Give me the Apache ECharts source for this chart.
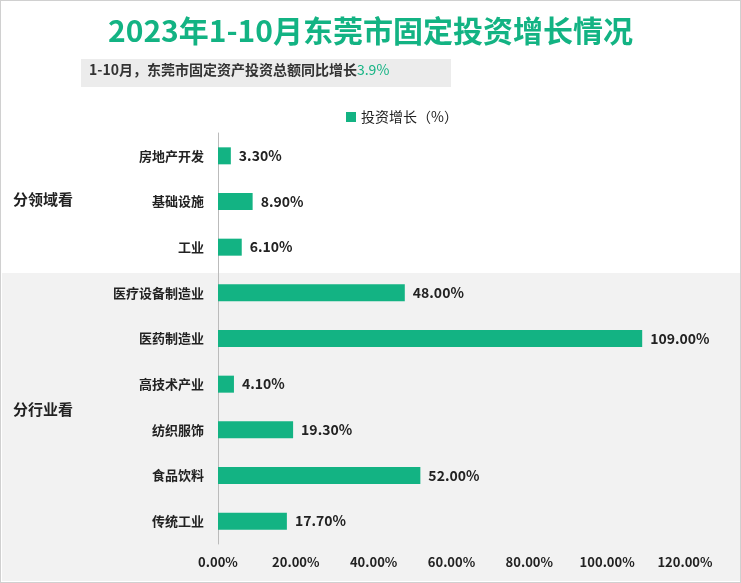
<!DOCTYPE html>
<html><head><meta charset="utf-8">
<script src="https://cdn.jsdelivr.net/npm/echarts@6/dist/echarts.min.js"></script>
<style>body{margin:0}#c{width:741px;height:583px;box-sizing:border-box;border:1px solid #d0d0d0}</style>
</head><body><div id="c"></div>
<script>
const categories = ["房地产开发", "基础设施", "工业", "医疗设备制造业", "医药制造业", "高技术产业", "纺织服饰", "食品饮料", "传统工业"];
const growth = [3.3, 8.9, 6.1, 48, 109, 4.1, 19.3, 52, 17.7];
const groups = [["分领域看", 201], ["分行业看", 411]];

const chart = echarts.init(document.getElementById("c"));
const font = "'Noto Sans CJK SC', sans-serif";
chart.setOption({
  textStyle: { fontFamily: font },
  title: [
    { text: "2023年1-10月东莞市固定投资增长情况", left: "center", top: 10,
      textStyle: { color: "#13b383", fontSize: 30, fontWeight: "bold", fontFamily: font } },
  ],
  graphic: [
    { type: "rect", shape: { x: 80, y: 58, width: 370, height: 28 }, style: { fill: "#ececec" } },
    { type: "text", left: 88, top: 62, style: { text: "1-10月，东莞市固定资产投资总额同比增长{g|3.9%}",
      rich: { g: { fill: "#13b383", fontSize: 14, fontFamily: font } },
      fill: "#333", fontSize: 14, fontWeight: "bold", fontFamily: font } },
    { type: "rect", z: -1, shape: { x: 1, y: 272, width: 739, height: 308 }, style: { fill: "#f2f2f2" } },
    ...groups.map(([t, y]) => ({ type: "text", left: 12, top: y - 10,
      style: { text: t, fill: "#222", fontSize: 15, fontWeight: "bold", fontFamily: font } })),
  ],
  legend: { top: 104, left: 340, itemWidth: 10, itemHeight: 10, icon: "rect",
    textStyle: { fontSize: 14, color: "#222" } },
  grid: { left: 217, right: 55, top: 132, bottom: 38 },
  xAxis: { type: "value", min: 0, max: 120, interval: 20,
    axisLabel: { formatter: v => v.toFixed(2) + "%", fontSize: 13, fontWeight: "bold", color: "#222", margin: 12 },
    splitLine: { show: false }, axisLine: { show: false }, axisTick: { show: false } },
  yAxis: { type: "category", data: categories, inverse: true,
    axisLine: { lineStyle: { color: "#bbb" } }, axisTick: { show: false },
    axisLabel: { fontSize: 13, fontWeight: "bold", color: "#222", margin: 14 } },
  series: [{ name: "投资增长（%）", type: "bar", data: growth, barWidth: 17,
    itemStyle: { color: "#13b383" },
    label: { show: true, position: "right", formatter: p => p.value.toFixed(2) + "%",
      fontSize: 14, fontWeight: "bold", color: "#222", distance: 8 } }],
});
</script></body></html>
